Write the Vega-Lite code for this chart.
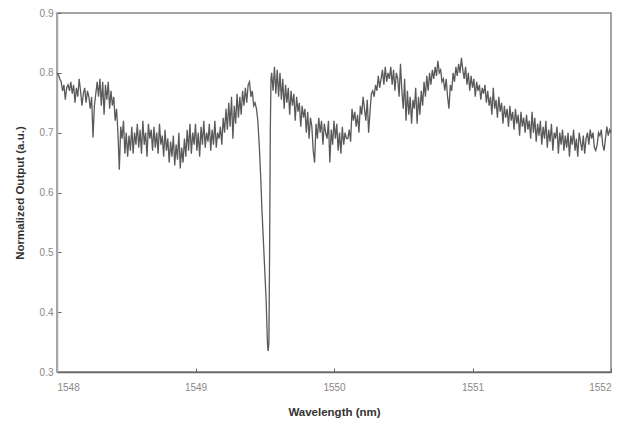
{
  "$schema": "https://vega.github.io/schema/vega-lite/v6.json",
  "width": 554,
  "height": 359,
  "autosize": {"type": "none"},
  "padding": {"left": 57, "top": 13, "right": 15, "bottom": 53},
  "background": "white",
  "config": {
    "view": {"stroke": "#888", "strokeWidth": 1.5},
    "axis": {"labelFont": "Liberation Sans", "titleFont": "Liberation Sans", "labelColor": "#888", "titleColor": "#333", "labelFontSize": 10, "titleFontSize": 11.5, "titleFontWeight": "bold", "grid": false, "tickColor": "#666", "tickSize": -4}
  },
  "data": {"values": [
{"x":1548.00,"y":0.800},{"x":1548.01,"y":0.797},{"x":1548.02,"y":0.790},{"x":1548.03,"y":0.785},{"x":1548.04,"y":0.770},{"x":1548.05,"y":0.780},{"x":1548.06,"y":0.755},{"x":1548.07,"y":0.775},{"x":1548.08,"y":0.780},{"x":1548.09,"y":0.770},
{"x":1548.10,"y":0.785},{"x":1548.11,"y":0.765},{"x":1548.12,"y":0.780},{"x":1548.13,"y":0.750},{"x":1548.14,"y":0.775},{"x":1548.15,"y":0.760},{"x":1548.16,"y":0.790},{"x":1548.17,"y":0.770},{"x":1548.18,"y":0.745},{"x":1548.19,"y":0.765},
{"x":1548.20,"y":0.775},{"x":1548.21,"y":0.750},{"x":1548.22,"y":0.770},{"x":1548.23,"y":0.760},{"x":1548.24,"y":0.740},{"x":1548.25,"y":0.760},{"x":1548.26,"y":0.692},{"x":1548.27,"y":0.745},{"x":1548.28,"y":0.765},{"x":1548.29,"y":0.785},
{"x":1548.30,"y":0.760},{"x":1548.31,"y":0.790},{"x":1548.32,"y":0.745},{"x":1548.33,"y":0.785},{"x":1548.34,"y":0.730},{"x":1548.35,"y":0.780},{"x":1548.36,"y":0.755},{"x":1548.37,"y":0.785},{"x":1548.38,"y":0.740},{"x":1548.39,"y":0.770},
{"x":1548.40,"y":0.745},{"x":1548.41,"y":0.760},{"x":1548.42,"y":0.720},{"x":1548.43,"y":0.740},{"x":1548.44,"y":0.700},{"x":1548.45,"y":0.638},{"x":1548.46,"y":0.710},{"x":1548.47,"y":0.690},{"x":1548.48,"y":0.720},{"x":1548.49,"y":0.665},
{"x":1548.50,"y":0.700},{"x":1548.51,"y":0.660},{"x":1548.52,"y":0.695},{"x":1548.53,"y":0.670},{"x":1548.54,"y":0.710},{"x":1548.55,"y":0.665},{"x":1548.56,"y":0.700},{"x":1548.57,"y":0.680},{"x":1548.58,"y":0.715},{"x":1548.59,"y":0.675},
{"x":1548.60,"y":0.705},{"x":1548.61,"y":0.665},{"x":1548.62,"y":0.720},{"x":1548.63,"y":0.680},{"x":1548.64,"y":0.700},{"x":1548.65,"y":0.660},{"x":1548.66,"y":0.715},{"x":1548.67,"y":0.690},{"x":1548.68,"y":0.705},{"x":1548.69,"y":0.670},
{"x":1548.70,"y":0.710},{"x":1548.71,"y":0.675},{"x":1548.72,"y":0.700},{"x":1548.73,"y":0.665},{"x":1548.74,"y":0.715},{"x":1548.75,"y":0.680},{"x":1548.76,"y":0.695},{"x":1548.77,"y":0.660},{"x":1548.78,"y":0.705},{"x":1548.79,"y":0.670},
{"x":1548.80,"y":0.690},{"x":1548.81,"y":0.650},{"x":1548.82,"y":0.685},{"x":1548.83,"y":0.660},{"x":1548.84,"y":0.695},{"x":1548.85,"y":0.645},{"x":1548.86,"y":0.680},{"x":1548.87,"y":0.655},{"x":1548.88,"y":0.700},{"x":1548.89,"y":0.640},
{"x":1548.90,"y":0.675},{"x":1548.91,"y":0.650},{"x":1548.92,"y":0.690},{"x":1548.93,"y":0.660},{"x":1548.94,"y":0.705},{"x":1548.95,"y":0.670},{"x":1548.96,"y":0.715},{"x":1548.97,"y":0.665},{"x":1548.98,"y":0.700},{"x":1548.99,"y":0.680},
{"x":1549.00,"y":0.715},{"x":1549.01,"y":0.670},{"x":1549.02,"y":0.700},{"x":1549.03,"y":0.660},{"x":1549.04,"y":0.710},{"x":1549.05,"y":0.680},{"x":1549.06,"y":0.720},{"x":1549.07,"y":0.675},{"x":1549.08,"y":0.700},{"x":1549.09,"y":0.685},
{"x":1549.10,"y":0.715},{"x":1549.11,"y":0.670},{"x":1549.12,"y":0.705},{"x":1549.13,"y":0.680},{"x":1549.14,"y":0.720},{"x":1549.15,"y":0.675},{"x":1549.16,"y":0.700},{"x":1549.17,"y":0.690},{"x":1549.18,"y":0.710},{"x":1549.19,"y":0.680},
{"x":1549.20,"y":0.725},{"x":1549.21,"y":0.700},{"x":1549.22,"y":0.740},{"x":1549.23,"y":0.705},{"x":1549.24,"y":0.750},{"x":1549.25,"y":0.710},{"x":1549.26,"y":0.760},{"x":1549.27,"y":0.690},{"x":1549.28,"y":0.745},{"x":1549.29,"y":0.715},
{"x":1549.30,"y":0.765},{"x":1549.31,"y":0.725},{"x":1549.32,"y":0.760},{"x":1549.33,"y":0.730},{"x":1549.34,"y":0.770},{"x":1549.35,"y":0.745},{"x":1549.36,"y":0.775},{"x":1549.37,"y":0.750},{"x":1549.38,"y":0.780},{"x":1549.39,"y":0.785},
{"x":1549.40,"y":0.760},{"x":1549.41,"y":0.770},{"x":1549.42,"y":0.745},{"x":1549.43,"y":0.750},{"x":1549.44,"y":0.740},{"x":1549.45,"y":0.720},{"x":1549.46,"y":0.680},{"x":1549.47,"y":0.630},{"x":1549.48,"y":0.570},{"x":1549.49,"y":0.520},
{"x":1549.50,"y":0.470},{"x":1549.51,"y":0.420},{"x":1549.52,"y":0.345},{"x":1549.525,"y":0.335},{"x":1549.53,"y":0.350},{"x":1549.535,"y":0.500},{"x":1549.54,"y":0.700},{"x":1549.545,"y":0.790},
{"x":1549.55,"y":0.800},{"x":1549.56,"y":0.770},{"x":1549.57,"y":0.810},{"x":1549.58,"y":0.765},{"x":1549.59,"y":0.805},
{"x":1549.60,"y":0.760},{"x":1549.61,"y":0.800},{"x":1549.62,"y":0.755},{"x":1549.63,"y":0.790},{"x":1549.64,"y":0.740},{"x":1549.65,"y":0.780},{"x":1549.66,"y":0.750},{"x":1549.67,"y":0.775},{"x":1549.68,"y":0.730},{"x":1549.69,"y":0.770},
{"x":1549.70,"y":0.745},{"x":1549.71,"y":0.765},{"x":1549.72,"y":0.720},{"x":1549.73,"y":0.760},{"x":1549.74,"y":0.735},{"x":1549.75,"y":0.750},{"x":1549.76,"y":0.710},{"x":1549.77,"y":0.745},{"x":1549.78,"y":0.725},{"x":1549.79,"y":0.740},
{"x":1549.80,"y":0.700},{"x":1549.81,"y":0.735},{"x":1549.82,"y":0.690},{"x":1549.83,"y":0.725},{"x":1549.84,"y":0.710},{"x":1549.85,"y":0.670},{"x":1549.86,"y":0.650},{"x":1549.87,"y":0.715},{"x":1549.88,"y":0.690},{"x":1549.89,"y":0.725},
{"x":1549.90,"y":0.700},{"x":1549.91,"y":0.720},{"x":1549.92,"y":0.680},{"x":1549.93,"y":0.715},{"x":1549.94,"y":0.700},{"x":1549.95,"y":0.690},{"x":1549.96,"y":0.720},{"x":1549.97,"y":0.650},{"x":1549.98,"y":0.705},{"x":1549.99,"y":0.680},
{"x":1550.00,"y":0.720},{"x":1550.01,"y":0.690},{"x":1550.02,"y":0.715},{"x":1550.03,"y":0.670},{"x":1550.04,"y":0.700},{"x":1550.05,"y":0.665},{"x":1550.06,"y":0.710},{"x":1550.07,"y":0.680},{"x":1550.08,"y":0.700},{"x":1550.09,"y":0.690},
{"x":1550.10,"y":0.690},{"x":1550.11,"y":0.705},{"x":1550.12,"y":0.685},{"x":1550.13,"y":0.740},{"x":1550.14,"y":0.720},{"x":1550.15,"y":0.735},{"x":1550.16,"y":0.710},{"x":1550.17,"y":0.730},{"x":1550.18,"y":0.700},{"x":1550.19,"y":0.745},
{"x":1550.20,"y":0.730},{"x":1550.21,"y":0.760},{"x":1550.22,"y":0.740},{"x":1550.23,"y":0.720},{"x":1550.24,"y":0.755},{"x":1550.25,"y":0.700},{"x":1550.26,"y":0.735},{"x":1550.27,"y":0.765},{"x":1550.28,"y":0.770},{"x":1550.29,"y":0.760},
{"x":1550.30,"y":0.780},{"x":1550.31,"y":0.770},{"x":1550.32,"y":0.795},{"x":1550.33,"y":0.775},{"x":1550.34,"y":0.790},{"x":1550.35,"y":0.805},{"x":1550.36,"y":0.780},{"x":1550.37,"y":0.810},{"x":1550.38,"y":0.785},{"x":1550.39,"y":0.800},
{"x":1550.40,"y":0.790},{"x":1550.41,"y":0.810},{"x":1550.42,"y":0.780},{"x":1550.43,"y":0.805},{"x":1550.44,"y":0.770},{"x":1550.45,"y":0.800},{"x":1550.46,"y":0.790},{"x":1550.47,"y":0.760},{"x":1550.48,"y":0.815},{"x":1550.49,"y":0.770},
{"x":1550.50,"y":0.740},{"x":1550.51,"y":0.790},{"x":1550.52,"y":0.720},{"x":1550.53,"y":0.770},{"x":1550.54,"y":0.730},{"x":1550.55,"y":0.760},{"x":1550.56,"y":0.715},{"x":1550.57,"y":0.755},{"x":1550.58,"y":0.740},{"x":1550.59,"y":0.775},
{"x":1550.60,"y":0.715},{"x":1550.61,"y":0.760},{"x":1550.62,"y":0.730},{"x":1550.63,"y":0.770},{"x":1550.64,"y":0.745},{"x":1550.65,"y":0.785},{"x":1550.66,"y":0.760},{"x":1550.67,"y":0.795},{"x":1550.68,"y":0.770},{"x":1550.69,"y":0.800},
{"x":1550.70,"y":0.780},{"x":1550.71,"y":0.805},{"x":1550.72,"y":0.790},{"x":1550.73,"y":0.810},{"x":1550.74,"y":0.795},{"x":1550.75,"y":0.820},{"x":1550.76,"y":0.800},{"x":1550.77,"y":0.805},{"x":1550.78,"y":0.785},{"x":1550.79,"y":0.790},
{"x":1550.80,"y":0.770},{"x":1550.81,"y":0.790},{"x":1550.82,"y":0.760},{"x":1550.83,"y":0.740},{"x":1550.84,"y":0.780},{"x":1550.85,"y":0.770},{"x":1550.86,"y":0.800},{"x":1550.87,"y":0.785},{"x":1550.88,"y":0.810},{"x":1550.89,"y":0.795},
{"x":1550.90,"y":0.815},{"x":1550.91,"y":0.800},{"x":1550.92,"y":0.825},{"x":1550.93,"y":0.805},{"x":1550.94,"y":0.790},{"x":1550.95,"y":0.810},{"x":1550.96,"y":0.780},{"x":1550.97,"y":0.800},{"x":1550.98,"y":0.770},{"x":1550.99,"y":0.795},
{"x":1551.00,"y":0.775},{"x":1551.01,"y":0.790},{"x":1551.02,"y":0.760},{"x":1551.03,"y":0.785},{"x":1551.04,"y":0.770},{"x":1551.05,"y":0.780},{"x":1551.06,"y":0.755},{"x":1551.07,"y":0.775},{"x":1551.08,"y":0.765},{"x":1551.09,"y":0.780},
{"x":1551.10,"y":0.750},{"x":1551.11,"y":0.770},{"x":1551.12,"y":0.745},{"x":1551.13,"y":0.760},{"x":1551.14,"y":0.730},{"x":1551.15,"y":0.775},{"x":1551.16,"y":0.740},{"x":1551.17,"y":0.755},{"x":1551.18,"y":0.725},{"x":1551.19,"y":0.760},
{"x":1551.20,"y":0.735},{"x":1551.21,"y":0.750},{"x":1551.22,"y":0.715},{"x":1551.23,"y":0.745},{"x":1551.24,"y":0.725},{"x":1551.25,"y":0.740},{"x":1551.26,"y":0.710},{"x":1551.27,"y":0.745},{"x":1551.28,"y":0.720},{"x":1551.29,"y":0.735},
{"x":1551.30,"y":0.705},{"x":1551.31,"y":0.740},{"x":1551.32,"y":0.715},{"x":1551.33,"y":0.730},{"x":1551.34,"y":0.695},{"x":1551.35,"y":0.735},{"x":1551.36,"y":0.710},{"x":1551.37,"y":0.725},{"x":1551.38,"y":0.700},{"x":1551.39,"y":0.730},
{"x":1551.40,"y":0.705},{"x":1551.41,"y":0.720},{"x":1551.42,"y":0.690},{"x":1551.43,"y":0.735},{"x":1551.44,"y":0.700},{"x":1551.45,"y":0.725},{"x":1551.46,"y":0.685},{"x":1551.47,"y":0.715},{"x":1551.48,"y":0.695},{"x":1551.49,"y":0.720},
{"x":1551.50,"y":0.680},{"x":1551.51,"y":0.710},{"x":1551.52,"y":0.690},{"x":1551.53,"y":0.720},{"x":1551.54,"y":0.675},{"x":1551.55,"y":0.705},{"x":1551.56,"y":0.685},{"x":1551.57,"y":0.715},{"x":1551.58,"y":0.670},{"x":1551.59,"y":0.700},
{"x":1551.60,"y":0.690},{"x":1551.61,"y":0.710},{"x":1551.62,"y":0.665},{"x":1551.63,"y":0.700},{"x":1551.64,"y":0.680},{"x":1551.65,"y":0.705},{"x":1551.66,"y":0.670},{"x":1551.67,"y":0.695},{"x":1551.68,"y":0.675},{"x":1551.69,"y":0.700},
{"x":1551.70,"y":0.660},{"x":1551.71,"y":0.695},{"x":1551.72,"y":0.680},{"x":1551.73,"y":0.705},{"x":1551.74,"y":0.670},{"x":1551.75,"y":0.690},{"x":1551.76,"y":0.660},{"x":1551.77,"y":0.700},{"x":1551.78,"y":0.685},{"x":1551.79,"y":0.670},
{"x":1551.80,"y":0.695},{"x":1551.81,"y":0.665},{"x":1551.82,"y":0.690},{"x":1551.83,"y":0.700},{"x":1551.84,"y":0.680},{"x":1551.85,"y":0.705},{"x":1551.86,"y":0.690},{"x":1551.87,"y":0.700},{"x":1551.88,"y":0.675},{"x":1551.89,"y":0.670},
{"x":1551.90,"y":0.680},{"x":1551.91,"y":0.700},{"x":1551.92,"y":0.695},{"x":1551.93,"y":0.705},{"x":1551.94,"y":0.680},{"x":1551.95,"y":0.670},{"x":1551.96,"y":0.690},{"x":1551.97,"y":0.710},{"x":1551.98,"y":0.695},{"x":1551.99,"y":0.705},
{"x":1552.00,"y":0.700}
  ]},
  "mark": {"type": "line", "color": "#5a5a5a", "strokeWidth": 1.3},
  "encoding": {
    "x": {"field": "x", "type": "quantitative", "title": "Wavelength (nm)", "scale": {"domain": [1548, 1552], "nice": false, "zero": false},
      "axis": {"values": [1548, 1549, 1550, 1551, 1552], "format": "d", "labelPadding": 14, "domainColor": "#666", "domainWidth": 1.5, "titlePadding": 14}},
    "y": {"field": "y", "type": "quantitative", "title": "Normalized Output (a.u.)", "scale": {"domain": [0.3, 0.9], "nice": false, "zero": false},
      "axis": {"values": [0.3, 0.4, 0.5, 0.6, 0.7, 0.8, 0.9], "format": ".1f", "labelPadding": 8, "domainColor": "#aaa", "domainWidth": 1.5, "titlePadding": 14}}
  }
}
